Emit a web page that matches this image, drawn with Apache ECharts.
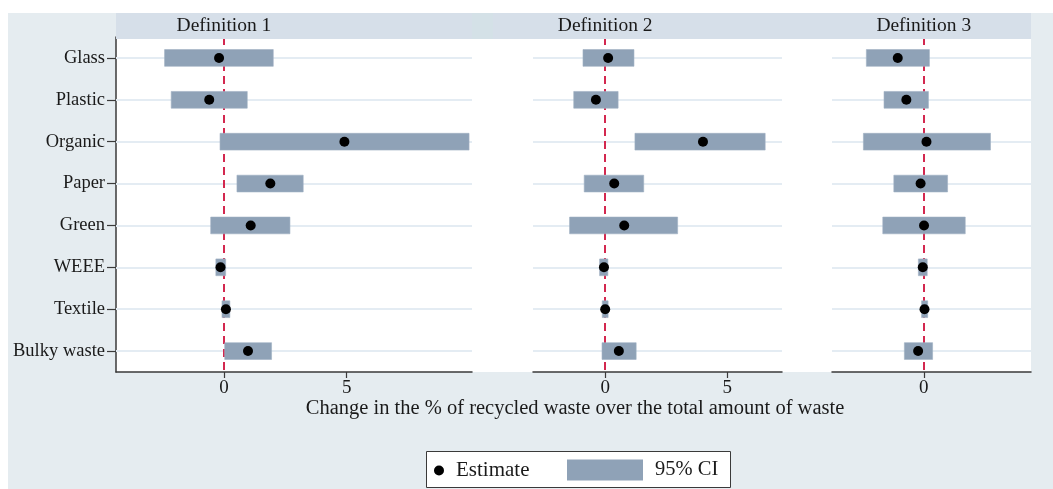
<!DOCTYPE html>
<html>
<head>
<meta charset="utf-8">
<title>Change in recycled waste share by definition</title>
<script src="https://cdn.jsdelivr.net/npm/echarts@6/dist/echarts.min.js"></script>
<style>
  html, body { margin: 0; padding: 0; background: #ffffff; }
  #main { width: 1053px; height: 489px; }
</style>
</head>
<body>
<div id="main"></div>
<script>
// Waste streams, top to bottom
const categories = ['Glass', 'Plastic', 'Organic', 'Paper', 'Green', 'WEEE', 'Textile', 'Bulky waste'];

// Definition 1: point estimates and 95% confidence bounds
const def1Est = [-0.20, -0.60, 4.91, 1.89, 1.09, -0.14, 0.08, 0.98];
const def1Lo  = [-2.42, -2.15, -0.16, 0.53, -0.54, -0.33, -0.08, 0.03];
const def1Hi  = [2.01, 0.95, 9.99, 3.23, 2.69, 0.07, 0.24, 1.94];

// Definition 2
const def2Est = [0.12, -0.38, 4.01, 0.37, 0.78, -0.05, 0.00, 0.56];
const def2Lo  = [-0.91, -1.29, 1.22, -0.86, -1.46, -0.23, -0.12, -0.13];
const def2Hi  = [1.18, 0.53, 6.56, 1.58, 2.97, 0.11, 0.12, 1.27];

// Definition 3
const def3Est = [-1.06, -0.71, 0.11, -0.13, 0.01, -0.04, 0.03, -0.23];
const def3Lo  = [-2.34, -1.62, -2.46, -1.22, -1.67, -0.22, -0.09, -0.79];
const def3Hi  = [0.23, 0.19, 2.72, 0.97, 1.69, 0.14, 0.16, 0.36];

const panelTitles = ['Definition 1', 'Definition 2', 'Definition 3'];
const axisMin = [-4.40, -2.96, -3.74];
const axisMax = [10.11, 7.25, 4.37];
const tickValues = [[0, 5], [0, 5], [0]];

const axisTitle = 'Change in the % of recycled waste over the total amount of waste';
const estName = 'Estimate';
const ciName = '95% CI';

const panels = [
  { est: def1Est, lo: def1Lo, hi: def1Hi },
  { est: def2Est, lo: def2Lo, hi: def2Hi },
  { est: def3Est, lo: def3Lo, hi: def3Hi }
];

const FONT = '"Liberation Serif", "Times New Roman", serif';
const INK = '#1a1a1a';
const AXIS_COLOR = '#3a3a3a';
const CI_COLOR = '#8fa2b7';
const GRID_COLOR = '#e4ecf3';
const ZERO_COLOR = '#d3284f';

const grids = [
  { left: 116, top: 37, width: 356, height: 335 },
  { left: 533, top: 37, width: 249, height: 335 },
  { left: 832, top: 37, width: 199, height: 335 }
];

const xAxes = grids.map((g, i) => ({
  gridIndex: i,
  type: 'value',
  min: axisMin[i],
  max: axisMax[i],
  splitLine: { show: false },
  axisLine: { show: true, onZero: false, lineStyle: { color: AXIS_COLOR, width: 1.5 } },
  axisTick: { show: true, customValues: tickValues[i], length: 6, lineStyle: { color: AXIS_COLOR, width: 1.2 } },
  axisLabel: { customValues: tickValues[i], margin: 7, fontFamily: FONT, fontSize: 19, color: INK }
}));

const yAxes = grids.map((g, i) => ({
  gridIndex: i,
  type: 'category',
  data: categories,
  inverse: true,
  boundaryGap: true,
  axisLine: { show: i === 0, onZero: false, lineStyle: { color: AXIS_COLOR, width: 1.5 } },
  axisTick: { show: i === 0, alignWithLabel: true, length: 9, lineStyle: { color: AXIS_COLOR, width: 1.2 } },
  axisLabel: { show: i === 0, margin: 11, fontFamily: FONT, fontSize: 18.5, color: INK },
  splitLine: { show: false }
}));

function renderCI(params, api) {
  const cat = api.value(0);
  const start = api.coord([api.value(1), cat]);
  const end = api.coord([api.value(2), cat]);
  const h = api.size([0, 1])[1] * 0.4;
  return {
    type: 'rect',
    shape: { x: start[0], y: start[1] - h / 2, width: end[0] - start[0], height: h },
    style: api.style({ fill: CI_COLOR, stroke: '#9fb0c2', lineWidth: 0.6 })
  };
}

const series = [];
panels.forEach((p, i) => {
  series.push({
    name: ciName,
    type: 'custom',
    xAxisIndex: i,
    yAxisIndex: i,
    z: 2,
    renderItem: renderCI,
    itemStyle: { color: CI_COLOR },
    encode: { x: [1, 2], y: 0 },
    data: categories.map((c, k) => [c, p.lo[k], p.hi[k]]),
    markLine: {
      z: 1,
      silent: true,
      symbol: 'none',
      label: { show: false },
      animation: false,
      data: categories.map(c => ({ yAxis: c, lineStyle: { color: GRID_COLOR, width: 2, type: 'solid' } }))
        .concat([{ xAxis: 0, lineStyle: { color: ZERO_COLOR, width: 2, type: [8, 5] } }])
    }
  });
  series.push({
    name: estName,
    type: 'scatter',
    xAxisIndex: i,
    yAxisIndex: i,
    z: 3,
    symbol: 'circle',
    symbolSize: 10,
    itemStyle: { color: '#000000', opacity: 1 },
    data: categories.map((c, k) => [p.est[k], c])
  });
});

const chart = echarts.init(document.getElementById('main'), null, { renderer: 'canvas' });

chart.setOption({
  animation: false,
  backgroundColor: '#ffffff',
  grid: grids,
  xAxis: xAxes,
  yAxis: yAxes,
  legend: [
    {
      data: [estName], left: 434, top: 460, padding: 0, selectedMode: false,
      icon: 'circle', itemWidth: 10, itemHeight: 10,
      textStyle: { fontFamily: FONT, fontSize: 21, color: INK, padding: [0, 0, 0, 7] }
    },
    {
      data: [ciName], left: 567, top: 459.5, padding: 0, selectedMode: false,
      icon: 'rect', itemWidth: 76, itemHeight: 21,
      textStyle: { fontFamily: FONT, fontSize: 20.5, color: INK, padding: [0, 0, 0, 7] }
    }
  ],
  series: series
});

// Panel headers are centred on each panel's zero line
const headerTexts = panelTitles.map((t, i) => ({
  type: 'text',
  z: 21,
  x: chart.convertToPixel({ xAxisIndex: i }, 0),
  y: 26,
  style: { text: t, fontFamily: FONT, fontSize: 19.5, fill: INK, align: 'center', verticalAlign: 'middle' }
}));

chart.setOption({
  graphic: [
    // outer figure background
    { type: 'rect', z: -10, shape: { x: 8, y: 13, width: 1045, height: 476 }, style: { fill: '#e5ecf0' } },
    // plot region
    { type: 'rect', z: -9, shape: { x: 116, y: 39, width: 915, height: 333 }, style: { fill: '#ffffff' } },
    // header strips
    { type: 'rect', z: 20, shape: { x: 116, y: 13, width: 356, height: 26 }, style: { fill: '#d6dfe9' } },
    { type: 'rect', z: 20, shape: { x: 472, y: 13, width: 21, height: 26 }, style: { fill: '#d4e1e7' } },
    { type: 'rect', z: 20, shape: { x: 493, y: 13, width: 538, height: 26 }, style: { fill: '#d6dfe9' } },
    // shared axis title
    {
      type: 'text', z: 5, x: 575, y: 409,
      style: { text: axisTitle, fontFamily: FONT, fontSize: 20.5, fill: INK, align: 'center', verticalAlign: 'middle' }
    },
    // legend frame
    { type: 'rect', z: 1, shape: { x: 426.5, y: 451.5, width: 304, height: 36 }, style: { fill: '#ffffff', stroke: '#3a3a3a', lineWidth: 1 } }
  ].concat(headerTexts)
});
</script>
</body>
</html>
